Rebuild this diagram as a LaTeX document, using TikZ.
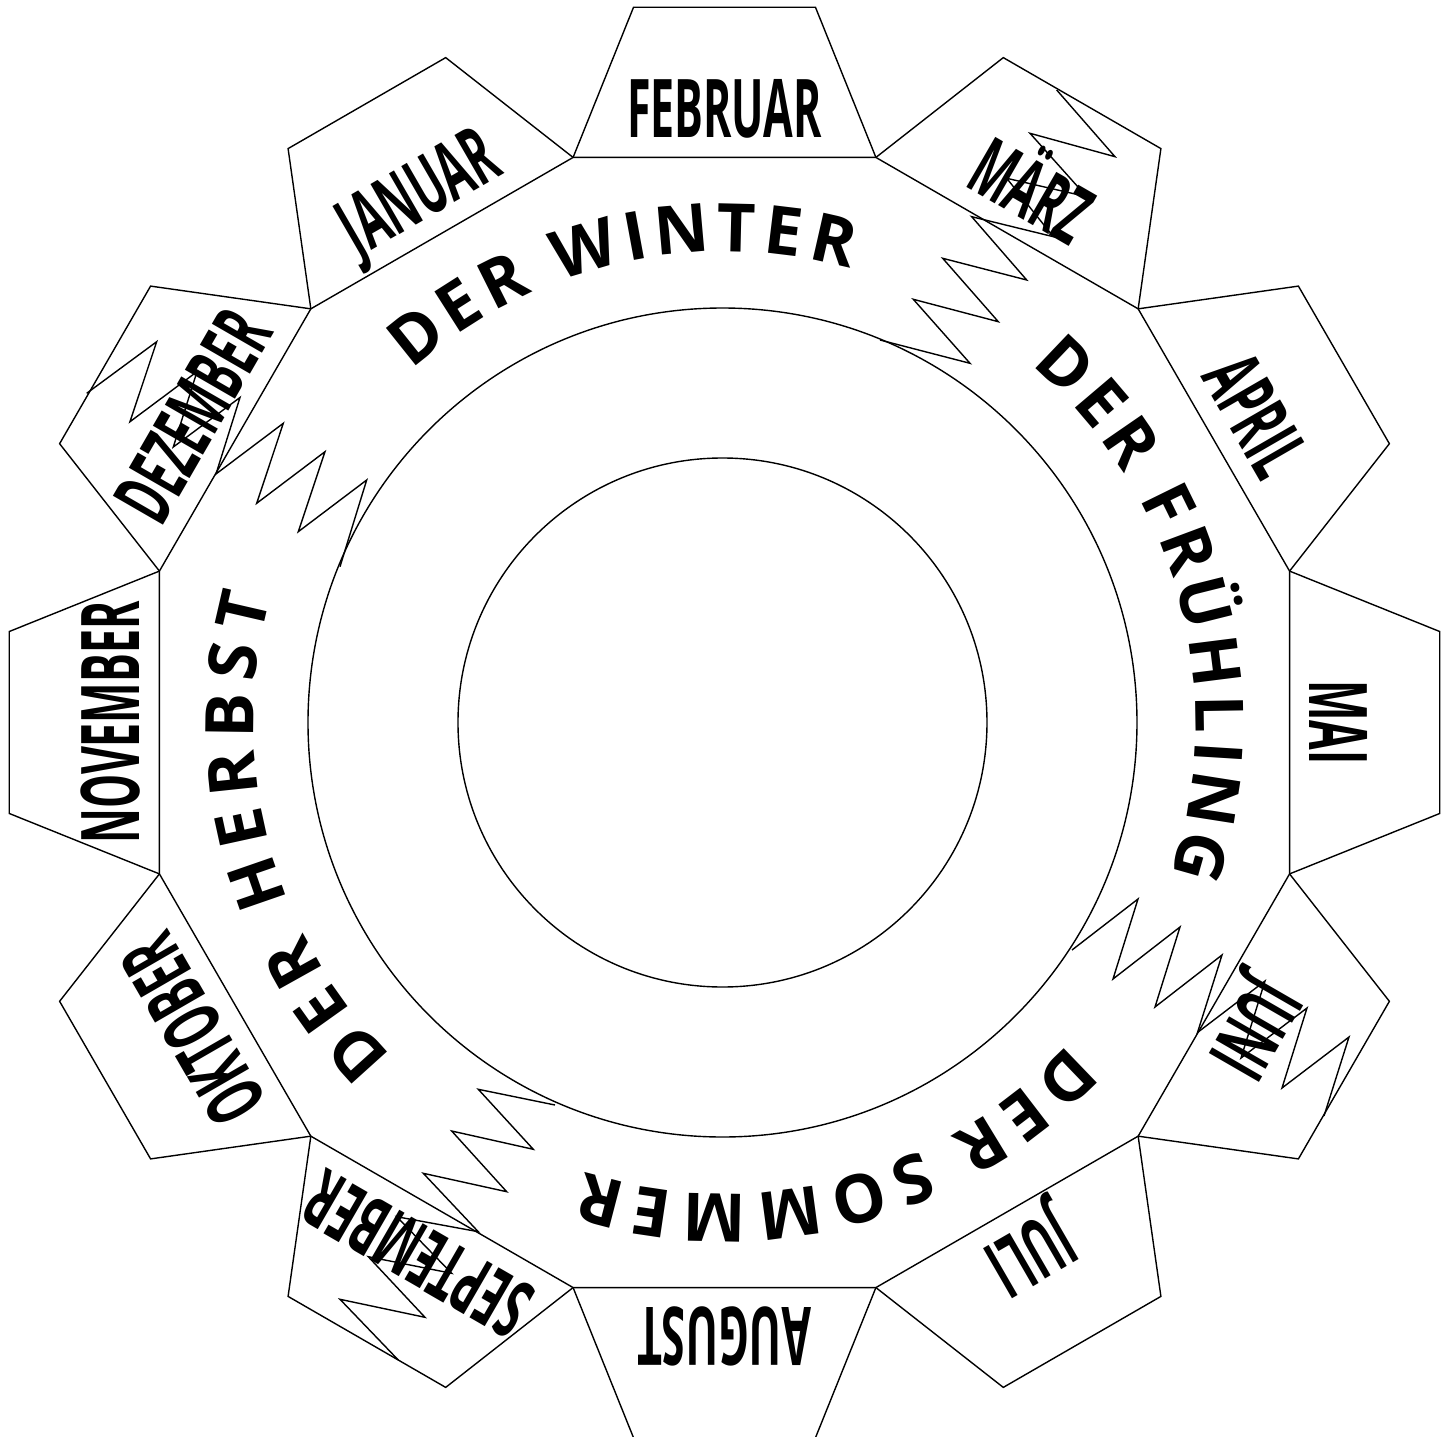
\documentclass[tikz,border=0pt]{standalone}
\usepackage{fontspec}
\setmainfont{Open Sans}
\begin{document}
\begin{tikzpicture}[x=1pt,y=1pt,
  outline/.style={line width=1.4pt, line join=miter},
  zig/.style={line width=1.4pt, line join=miter},
  month/.style={font=\fontsize{81}{81}\selectfont\bfseries, inner sep=0pt, anchor=base},
  season/.style={font=\fontsize{67}{67}\selectfont\bfseries, inner sep=0pt, anchor=base}]
\useasboundingbox (-724.5,-713.5) rectangle (728.5,722.5);
% tabs
\foreach \a in {0,30,...,330} {
  \draw[outline] ({\a-15}:585) -- ({\a-7.25}:721) -- ({\a+7.25}:721) -- ({\a+15}:585);
}
% dodecagon
\draw[outline] (15:585) \foreach \a in {45,75,...,345} { -- (\a:585) } -- cycle;
% circles
\draw[outline] (-2,0) circle[radius=414.5];
\draw[outline] (-2,0) circle[radius=264.5];
% zigzags (pixel coordinates)
\begin{scope}[xshift=-724.5pt, yshift=722.5pt, yscale=-1]
\draw[zig] (880,340) -- (970,363.3) -- (913.3,299.3) -- (998.3,321.7) -- (942.7,258.3) -- (1026.7,280) -- (971.7,216.7) -- (1053.3,236.7) -- (1006.7,178.3) -- (1086.7,196.7) -- (1030,133.3) -- (1115,156.7) -- (1056.7,90);
\draw[zig] (1072,950) -- (1138,899) -- (1113,979) -- (1180,927) -- (1155,1007) -- (1222,955) -- (1197.5,1032.5) -- (1265,981) -- (1241,1058) -- (1307,1008) -- (1282,1088) -- (1349,1037) -- (1324,1116);
\draw[zig] (555,1105) -- (478.3,1089.3) -- (533.3,1149.3) -- (451.7,1131) -- (506.7,1191.7) -- (423.3,1173.3) -- (478.3,1231.7) -- (396.7,1216.7) -- (451.7,1273.3) -- (368.3,1256.7) -- (425,1317.3) -- (340,1299.3) -- (398.3,1360);
\draw[zig] (340,566.7) -- (366.7,480) -- (298.3,531.7) -- (325,451.7) -- (256.7,503.3) -- (283.3,423.3) -- (216,474) -- (240,397.5) -- (173.3,447) -- (197,371.7) -- (130,421.7) -- (156.7,341.7) -- (86.7,393.3);
\end{scope}
% months
\foreach \a/\m/\n in {90/FEBRUAR/feb, 120/JANUAR/jan, 150/DEZEMBER/dez, 180/NOVEMBER/nov,
  210/OKTOBER/okt, 240/SEPTEMBER/sep, 270/AUGUST/aug, 300/JULI/jul, 330/JUNI/jun,
  0/MAI/mai, 30/APRIL/apr, 60/MÄRZ/mar}
  \node[month, rotate=\a-90] (\n) at (\a:585) {\scalebox{0.53}[1]{\m}};
% seasons
\foreach \g/\c [count=\i] in {128.6/D,122.47/E,116.61/R,106.54/W,100.44/I,95.03/N,88.61/T,83.06/E,77.2/R}
  \node[season, rotate=\g-90] (win\i) at (\g:471) {\c};
\foreach \g/\c [count=\i] in {46.4/D,40.34/E,34.56/R,26.19/F,20.46/R,14.04/Ü,7.18/H,0.94/L,-3.57/I,-8.92/N,-15.8/G}
  \node[season, rotate=\g-90] (fru\i) at (\g:471) {\c};
\foreach \g/\c [count=\i] in {-46.1/D,-52.54/E,-58.69/R,-67.59/S,-74.18/O,-82.36/M,-91.17/M,-98.45/E,-104.6/R}
  \node[season, rotate=\g-90] (som\i) at (\g:471) {\c};
\foreach \g/\c [count=\i] in {222.1/D,215.49/E,209.18/R,199.1/H,192.32/E,186.0/R,179.24/B,172.94/S,167.0/T}
  \node[season, rotate=\g-90] (her\i) at (\g:471) {\c};
\end{tikzpicture}
\end{document}
